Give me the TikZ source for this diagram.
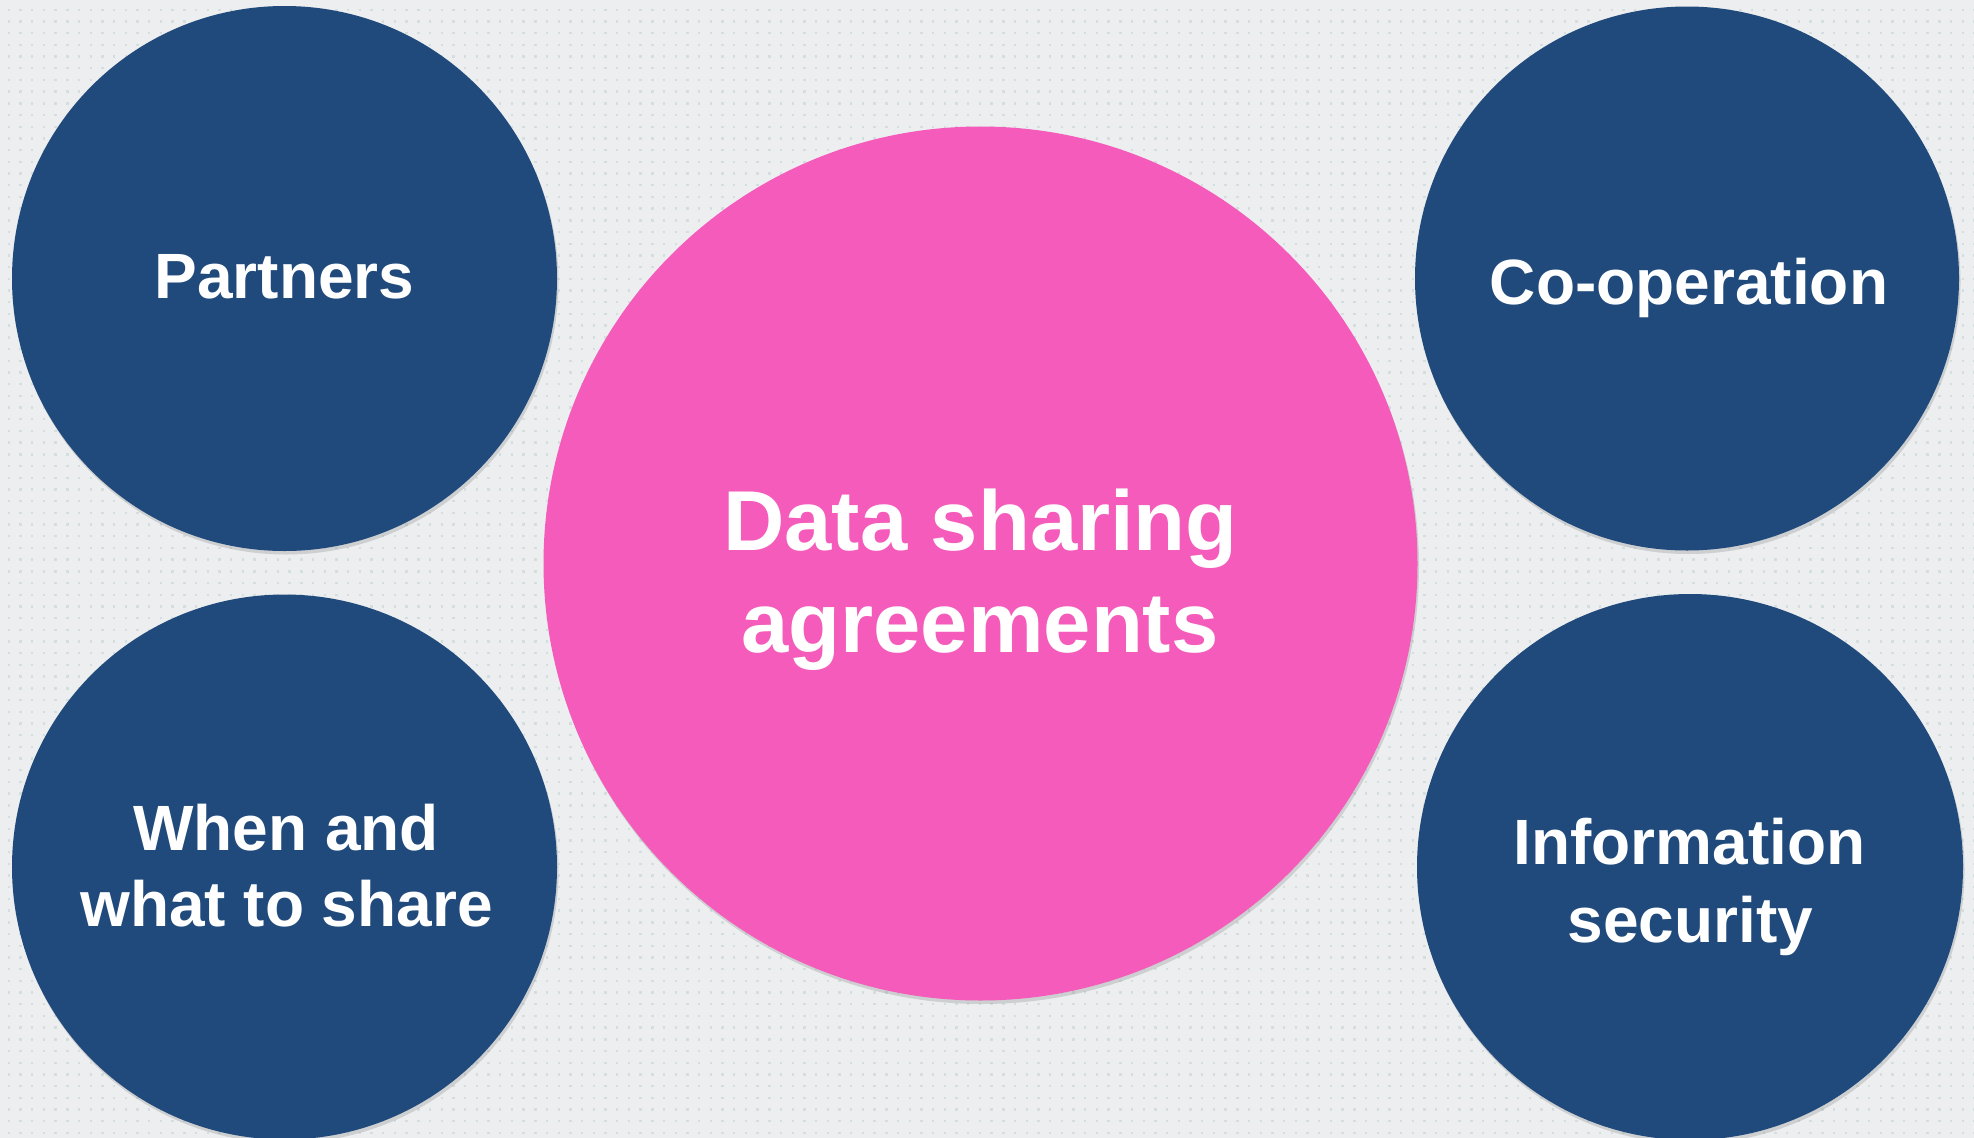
\documentclass[tikz,border=0pt]{standalone}
\usepackage{fontspec}
\setmainfont{Liberation Sans}
\usetikzlibrary{shadows}
\definecolor{bgc}{HTML}{ECEEF0}
\definecolor{dotc}{HTML}{D4DEDE}
\definecolor{navy}{HTML}{214A7C}
\definecolor{pinkc}{HTML}{F45BBA}
\tikzset{
  bubble/.style={circle, inner sep=0pt, draw=none,
    drop shadow={shadow xshift=1.5pt, shadow yshift=-3.5pt, opacity=0.25, fill=black!55}},
  bluebubble/.style={bubble, fill=navy},
  pinkbubble/.style={bubble, fill=pinkc},
  smalltxt/.style={text=white, font=\fontsize{64}{78}\selectfont\bfseries, inner sep=0pt, anchor=base},
  bigtxt/.style={text=white, font=\fontsize{85}{102}\selectfont\bfseries, inner sep=0pt, anchor=base},
  dotrow/.style={dotc, line width=2.4pt, dash pattern=on 2.4pt off 9.3pt}
}
\begin{document}
\begin{tikzpicture}[x=1pt,y=-1pt]
\useasboundingbox (0,0) rectangle (1974,1138);
\clip (0,0) rectangle (1974,1138);
\fill[bgc] (0,0) rectangle (1974,1138);
\foreach \j in {0,...,97}{
  \draw[dotrow] (7.6,9.7+11.7*\j) -- (1980,9.7+11.7*\j);
}
% circles
\node[bluebubble, minimum size=545pt] (partners) at (284.5,278.5) {};
\node[bluebubble, minimum size=544pt] (coop) at (1687,278.5) {};
\node[bluebubble, minimum size=545pt] (when) at (284.5,867) {};
\node[bluebubble, minimum size=546pt] (infosec) at (1690,867) {};
\node[pinkbubble, minimum size=874pt] (dsa) at (980.5,563.5) {};
% labels
\node[smalltxt] (partnersT) at (284.5,298) {Partners};
\node[smalltxt] (coopT) at (1689,304) {Co-operation};
\node[smalltxt] (whenT1) at (286,850) {When and};
\node[smalltxt] (whenT2) at (286.5,926.5) {what to share};
\node[smalltxt] (infoT1) at (1689.5,864) {Information};
\node[smalltxt] (infoT2) at (1690.5,942) {security};
\node[bigtxt] (dsaT1) at (980.5,550) {Data sharing};
\node[bigtxt] (dsaT2) at (980,652.5) {agreements};
\end{tikzpicture}
\end{document}
